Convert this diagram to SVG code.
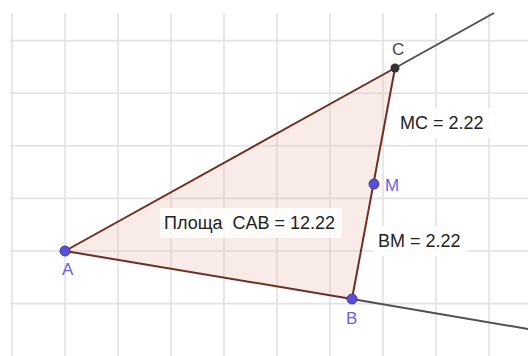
<svg xmlns="http://www.w3.org/2000/svg" width="528" height="356" viewBox="0 0 528 356">
<style>
.grid line{stroke:#e2e2e2;stroke-width:1.6}
.edge{stroke:#6e2f20;stroke-width:2;fill:none}
.ext{stroke:#505050;stroke-width:2}
.pt{fill:#5a50d8;stroke:#4038b8;stroke-width:1}
.lbl{font-family:"Liberation Sans",Arial,sans-serif;font-size:17px;fill:#6a62e6}
.val{font-family:"Liberation Sans",Arial,sans-serif;font-size:18px;fill:#222;white-space:pre}
.bg{fill:#fff;fill-opacity:0.88}
</style>
<rect width="528" height="356" fill="#fff"/>
<g class="grid">
<line x1="12" y1="13" x2="12" y2="356"/>
<line x1="65" y1="13" x2="65" y2="356"/>
<line x1="118" y1="13" x2="118" y2="356"/>
<line x1="171" y1="13" x2="171" y2="356"/>
<line x1="224" y1="13" x2="224" y2="356"/>
<line x1="277" y1="13" x2="277" y2="356"/>
<line x1="330" y1="13" x2="330" y2="356"/>
<line x1="383" y1="13" x2="383" y2="356"/>
<line x1="436" y1="13" x2="436" y2="356"/>
<line x1="489" y1="13" x2="489" y2="356"/>
<line x1="10" y1="40.6" x2="528" y2="40.6"/>
<line x1="10" y1="93.2" x2="528" y2="93.2"/>
<line x1="10" y1="145.8" x2="528" y2="145.8"/>
<line x1="10" y1="198.4" x2="528" y2="198.4"/>
<line x1="10" y1="251" x2="528" y2="251"/>
<line x1="10" y1="303.6" x2="528" y2="303.6"/>
</g>
<g id="triangle">
<polygon points="65,251 395,68 352,299" fill="#e8b8a8" fill-opacity="0.28"/>
</g>
<g id="connectors">
<line class="ext" x1="395" y1="68" x2="494" y2="13"/>
<line class="ext" x1="352" y1="299" x2="528" y2="329"/>
<line class="edge" x1="65" y1="251" x2="395" y2="68"/>
<line class="edge" x1="395" y1="68" x2="352" y2="299"/>
<line class="edge" x1="352" y1="299" x2="65" y2="251"/>
</g>
<g id="label-area">
<rect class="bg" x="160" y="208" width="182" height="30"/>
<text class="val" x="164" y="229" xml:space="preserve">Площа  CAB = 12.22</text>
</g>
<g id="label-mc">
<rect class="bg" x="396" y="108" width="94" height="30"/>
<text class="val" x="400" y="129">MC = 2.22</text>
</g>
<g id="label-bm">
<rect class="bg" x="374" y="226" width="92" height="30"/>
<text class="val" x="378" y="247">BM = 2.22</text>
</g>
<g id="point-A">
<circle class="pt" cx="65" cy="251" r="5"/>
<text class="lbl" x="62" y="275">A</text>
</g>
<g id="point-B">
<circle class="pt" cx="352" cy="299" r="5"/>
<text class="lbl" x="346" y="324">B</text>
</g>
<g id="point-M">
<circle class="pt" cx="374" cy="184" r="5"/>
<text class="lbl" x="385" y="191">M</text>
</g>
<g id="point-C">
<circle cx="395" cy="68" r="4.5" fill="#333"/>
<text class="lbl" x="392" y="55" style="fill:#444">C</text>
</g>
</svg>
